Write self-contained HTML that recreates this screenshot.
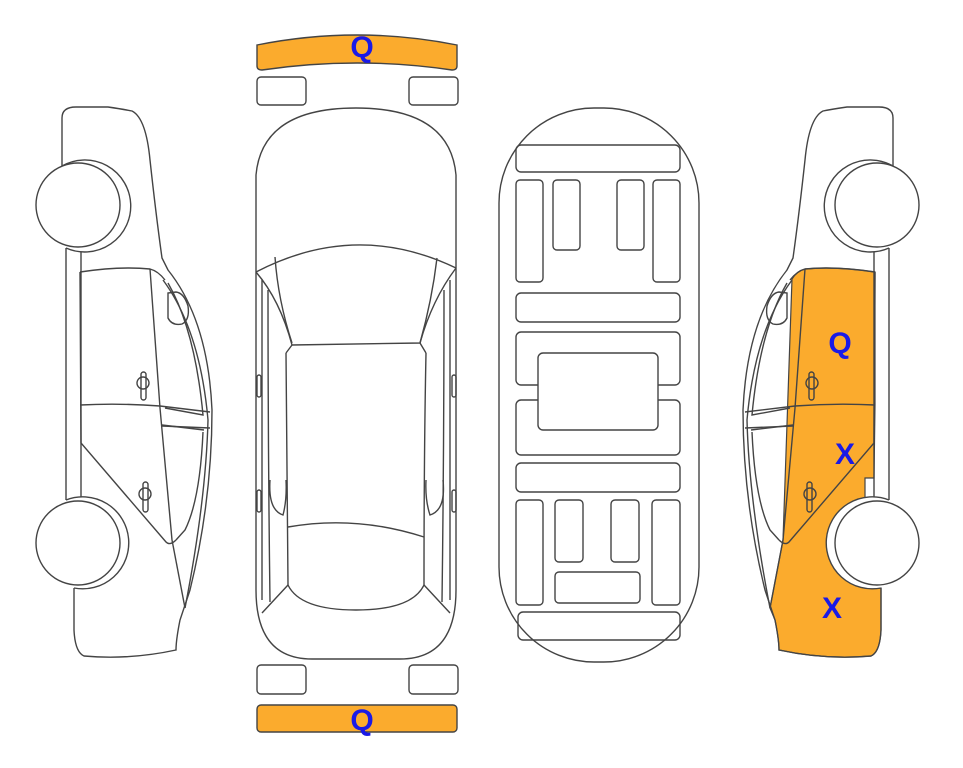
<!DOCTYPE html>
<html><head><meta charset="utf-8"><style>
html,body{margin:0;padding:0;background:#fff;}
svg{display:block;}
text{font-family:"Liberation Sans",Arial,sans-serif;font-weight:bold;fill:#1a1ae6;font-size:30px;text-anchor:middle;}
</style></head><body>
<svg width="963" height="768" viewBox="0 0 963 768" xmlns="http://www.w3.org/2000/svg">
<defs>
<g id="side" fill="none" stroke="#444" stroke-width="1.4">
  <path d="M62,168 L62,118 Q62,107 76,107 L108,107 Q122,109 132,111 Q146,118 150,160 Q156,215 162,258 L168,270 Q208,320 212,410 Q212,500 190,590 L180,620 Q176,640 176,650 Q130,660 84,656 Q75,652 74,630 L74,588"/>
  <path d="M66,248 L66,500 M81,250 L81,497"/>
  <path d="M80,272 Q120,266 150,269 Q158,271 165,280"/>
  <path d="M150,269 L160,408 L172,540"/>
  <path d="M80,272 L81,443 L166,542 Q170,546 176,540"/>
  <path d="M80,405 Q120,403 160,406"/>
  <path d="M163,280 Q200,330 208,420 Q206,500 185,608"/>
  <path d="M168,283 Q195,330 203,415 L165,408 M204,430 L162,425 M203,432 Q200,500 185,530 L176,540"/>
  <path d="M160,406 L210,412 M162,426 L210,428"/>
  <path d="M168,293 L168,318 Q172,326 182,324 Q190,320 188,306 Q184,293 176,292 Z"/>
  <path d="M172,540 L185,608"/>
  <rect x="141" y="372" width="5" height="28" rx="2.5"/>
  <ellipse cx="143" cy="383" rx="6" ry="6"/>
  <rect x="143" y="482" width="5" height="30" rx="2.5"/>
  <ellipse cx="145" cy="494" rx="6" ry="6"/>
  <path d="M62,166 A46,46 0 1 1 66,248" fill="#fff"/>
  <path d="M66,500 A46,46 0 1 1 74,588" fill="#fff"/>
  <circle cx="78" cy="205" r="42" fill="#fff"/>
  <circle cx="78" cy="543" r="42" fill="#fff"/>
</g>
</defs>

<!-- left car -->
<use href="#side"/>

<!-- right car -->
<g transform="translate(955,0) scale(-1,1)">
  <path d="M80,272 Q120,266 150,269 Q158,271 163,279 L172,540 L185,608 L180,620 Q176,640 176,650 Q130,660 84,656 Q75,652 74,630 L74,588 Q120,592 124,543 Q122,505 90,498 L90,478 L81,478 L80,405 Z" fill="#FBAB2D" stroke="#444" stroke-width="1.2"/>
  <use href="#side"/>
</g>

<!-- top view car -->
<g fill="none" stroke="#444" stroke-width="1.4">
  <path d="M257,45 Q357,25 457,45 L457,66 Q457,70 452,70 Q357,56 262,70 Q257,70 257,66 Z" fill="#FBAB2D"/>
  <rect x="257" y="77" width="49" height="28" rx="4"/>
  <rect x="409" y="77" width="49" height="28" rx="4"/>
  <path d="M256,590 L256,175 Q262,108 356,108 Q450,108 456,175 L456,590 Q456,659 400,659 L312,659 Q256,659 256,590 Z"/>
  <path d="M256,272 Q356,220 456,268"/>
  <path d="M256,272 Q280,300 292,345 L420,343 Q432,300 456,268"/>
  <path d="M275,257 Q278,300 292,343 M437,258 Q432,300 420,343"/>
  <path d="M286,353 L292,345 M426,353 L420,343"/>
  <path d="M286,353 Q287,450 288,585 M426,353 Q424,450 424,585"/>
  <path d="M262,280 L262,600 M268,290 Q268,450 270,602 M450,280 L450,600 M444,290 Q444,450 442,602"/>
  <path d="M288,527 Q356,515 424,537"/>
  <path d="M288,585 Q300,610 356,610 Q412,610 424,585"/>
  <path d="M262,613 L288,585 M450,613 L424,585"/>
  <path d="M270,480 Q268,510 283,515 Q287,500 286,480 M443,480 Q446,510 430,515 Q425,500 426,480"/>
  <rect x="257" y="375" width="4" height="22" rx="2"/>
  <rect x="452" y="375" width="4" height="22" rx="2"/>
  <rect x="257" y="490" width="4" height="22" rx="2"/>
  <rect x="452" y="490" width="4" height="22" rx="2"/>
  <rect x="257" y="665" width="49" height="29" rx="4"/>
  <rect x="409" y="665" width="49" height="29" rx="4"/>
  <rect x="257" y="705" width="200" height="27" rx="4" fill="#FBAB2D"/>
</g>

<!-- underside -->
<g fill="none" stroke="#444" stroke-width="1.4">
  <rect x="499" y="108" width="200" height="554" rx="95"/>
  <rect x="516" y="145" width="164" height="27" rx="5"/>
  <rect x="516" y="180" width="27" height="102" rx="4"/>
  <rect x="553" y="180" width="27" height="70" rx="4"/>
  <rect x="617" y="180" width="27" height="70" rx="4"/>
  <rect x="653" y="180" width="27" height="102" rx="4"/>
  <rect x="516" y="293" width="164" height="29" rx="5"/>
  <rect x="516" y="332" width="164" height="53" rx="5"/>
  <rect x="516" y="400" width="164" height="55" rx="5"/>
  <rect x="538" y="353" width="120" height="77" rx="5" fill="#fff"/>
  <rect x="516" y="463" width="164" height="29" rx="5"/>
  <rect x="516" y="500" width="27" height="105" rx="4"/>
  <rect x="555" y="500" width="28" height="62" rx="4"/>
  <rect x="611" y="500" width="28" height="62" rx="4"/>
  <rect x="652" y="500" width="28" height="105" rx="4"/>
  <rect x="555" y="572" width="85" height="31" rx="4"/>
  <rect x="518" y="612" width="162" height="28" rx="5"/>
</g>

<text x="362" y="57">Q</text>
<text x="362" y="730">Q</text>
<text x="840" y="353">Q</text>
<text x="845" y="464">X</text>
<text x="832" y="618">X</text>
</svg>
</body></html>
